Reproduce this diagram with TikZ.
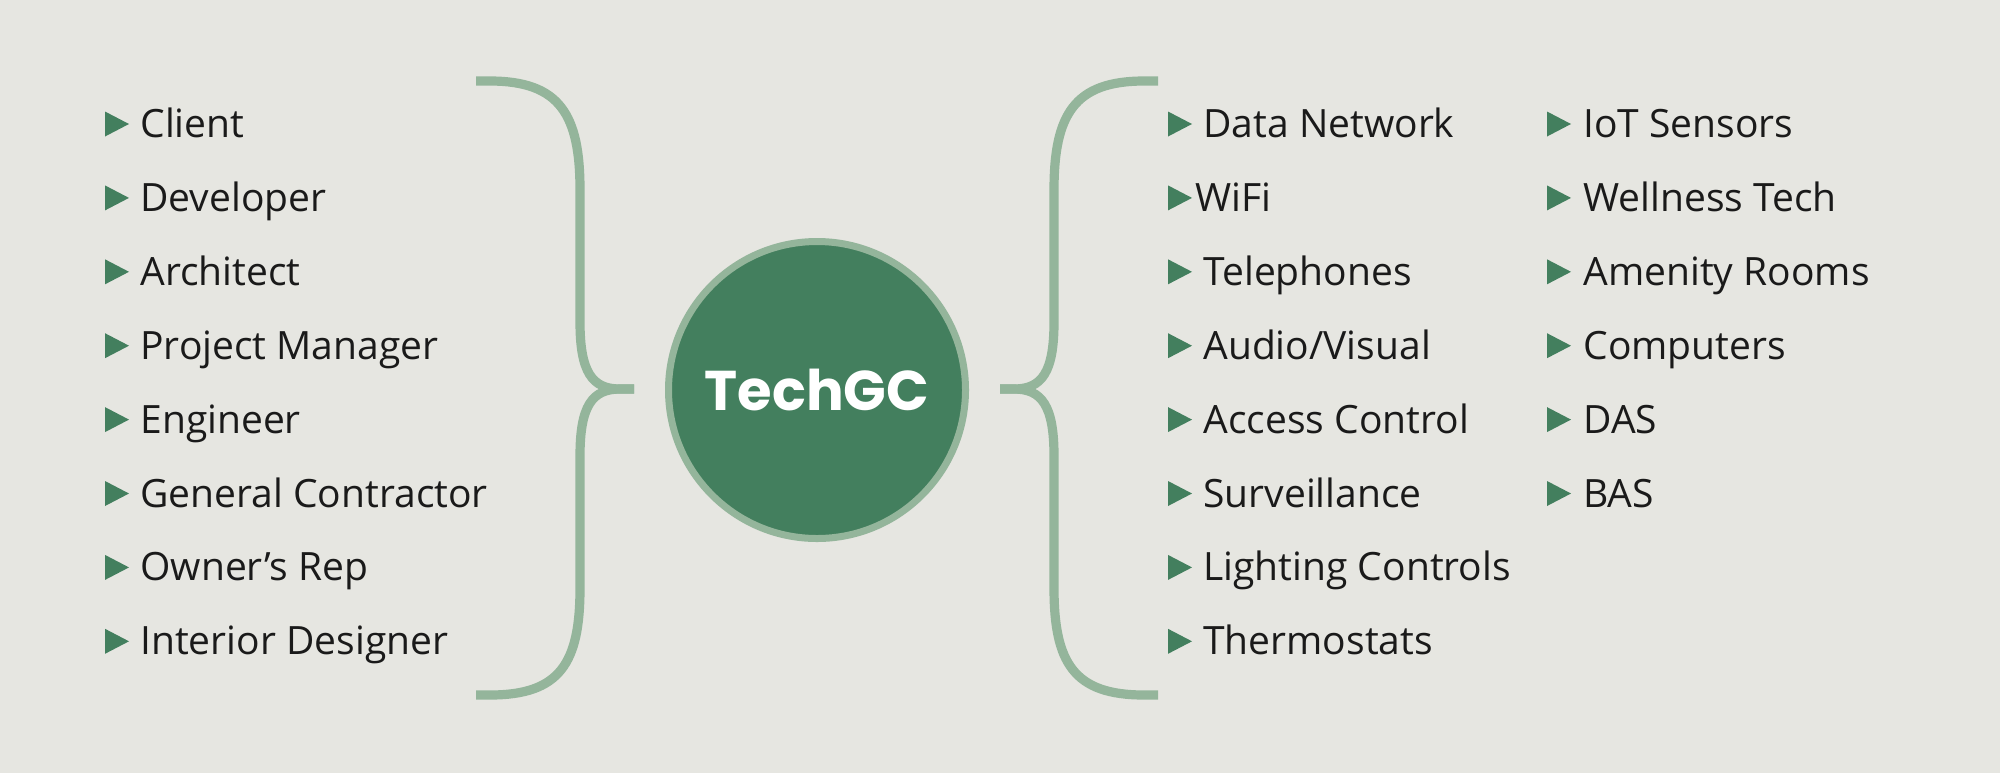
\documentclass[tikz,border=0pt]{standalone}
\usepackage{fontspec}
\setmainfont{Open Sans}
\newfontfamily\popp{Poppins}
\definecolor{bg}{HTML}{E6E6E1}
\definecolor{dkgreen}{HTML}{437F5E}
\definecolor{ltgreen}{HTML}{94B59B}
\definecolor{txt}{HTML}{1A1A1A}
\begin{document}
\begin{tikzpicture}[x=0.5pt,y=-0.5pt,
  item/.style={anchor=base west, inner sep=0pt, font=\fontsize{19.5}{23}\selectfont, text=txt},
  bul/.style={fill=dkgreen},
  brace/.style={draw=ltgreen, line width=4.6pt}]
\fill[bg] (0,0) rectangle (2000,773);
\useasboundingbox (0,0) rectangle (2000,773);
% left list
\foreach \t [count=\i] in {Client,Developer,Architect,Project Manager,Engineer,General Contractor,Owner’s Rep,Interior Designer}{
  \pgfmathsetmacro\yy{124+73.9*(\i-1)}
  \fill[bul] (105,\yy-12.5) -- (105,\yy+12.5) -- (129,\yy) -- cycle;
  \node[item] (l\i) at (140,\yy+13.5) {\t};
}
% right list col 1
\foreach \xx/\t [count=\i] in {1203/Data Network,1195/WiFi,1203/Telephones,1203/{Audio/Visual},1203/Access Control,1203/Surveillance,1203/Lighting Controls,1203/Thermostats}{
  \pgfmathsetmacro\yy{124+73.9*(\i-1)}
  \fill[bul] (1168,\yy-12.5) -- (1168,\yy+12.5) -- (1192,\yy) -- cycle;
  \node[item] (r\i) at (\xx,\yy+13.5) {\t};
}
% right list col 2
\foreach \t [count=\i] in {IoT Sensors,Wellness Tech,Amenity Rooms,Computers,DAS,BAS}{
  \pgfmathsetmacro\yy{124+73.9*(\i-1)}
  \fill[bul] (1547,\yy-12.5) -- (1547,\yy+12.5) -- (1571,\yy) -- cycle;
  \node[item] (s\i) at (1583,\yy+13.5) {\t};
}
% braces
\draw[brace] (476,81) -- (490,81) .. controls (560,81) and (580,115) .. (580,190)
  -- (580,322) .. controls (580,372) and (592,389) .. (620,389) -- (634,389);
\draw[brace] (634,389) -- (620,389) .. controls (592,389) and (580,406) .. (580,456)
  -- (580,588) .. controls (580,663) and (560,695) .. (490,695) -- (476,695);
\draw[brace] (1158,81) -- (1144,81) .. controls (1074,81) and (1054,115) .. (1054,190)
  -- (1054,322) .. controls (1054,372) and (1042,389) .. (1014,389) -- (1000,389);
\draw[brace] (1000,389) -- (1014,389) .. controls (1042,389) and (1054,406) .. (1054,456)
  -- (1054,588) .. controls (1054,663) and (1074,695) .. (1144,695) -- (1158,695);
% center
\node[circle, fill=dkgreen, draw=ltgreen, line width=3.5pt, minimum size=148.5pt, inner sep=0pt,
  text=white, font=\popp\bfseries\fontsize{28}{33}\selectfont] (hub) at (817,390) {TechGC};
\end{tikzpicture}
\end{document}
